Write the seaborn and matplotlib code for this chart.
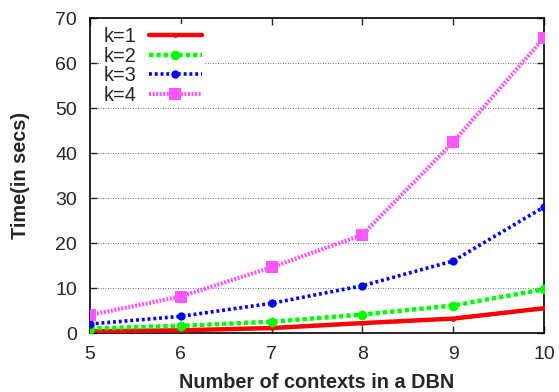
import matplotlib
matplotlib.use("Agg")
import matplotlib.pyplot as plt
import seaborn as sns
import pandas as pd

contexts = [5, 6, 7, 8, 9, 10]
k1 = [0.4, 0.6, 1.1, 2.2, 3.2, 5.5]
k2 = [1.0, 1.6, 2.5, 4.1, 6.1, 9.7]
k3 = [2.0, 3.7, 6.6, 10.5, 16.0, 28.0]
k4 = [4.0, 8.1, 14.6, 21.8, 42.4, 65.6]
labels = ["k=1", "k=2", "k=3", "k=4"]
yticks = [0, 10, 20, 30, 40, 50, 60, 70]

sns.set_style("ticks")
plt.rcParams['font.family'] = ['Liberation Sans', 'DejaVu Sans']

fig = plt.figure(figsize=(5.59, 3.92), dpi=100)
ax = fig.add_axes([0.161, 0.1505, 0.812, 0.8035])

styles = [
    dict(color="#ff0000", lw=3.2, ls="-", marker="o", ms=3.5),
    dict(color="#00ff00", lw=3.2, ls=(0, (1.0, 0.65)), marker="o", ms=7),
    dict(color="#0000ff", lw=2.6, ls=(0, (0.8, 0.8)), marker="o", ms=6),
    dict(color="#ff55ff", lw=3.0, ls=(0, (0.5, 0.35)), marker="s", ms=8),
]
for vals, lab, st in zip([k1, k2, k3, k4], labels, styles):
    df = pd.DataFrame({"x": contexts, "y": vals})
    sns.lineplot(data=df, x="x", y="y", ax=ax, label=lab, color=st["color"],
                 lw=st["lw"], linestyle=st["ls"], marker=st["marker"],
                 markersize=st["ms"], markeredgewidth=0, zorder=3)

ax.set_xlim(5, 10)
ax.set_ylim(0, 70)
ax.set_xticks(contexts)
ax.set_yticks(yticks)
ax.tick_params(direction="in", top=True, right=True, length=5, labelsize=14,
               width=1, pad=9.4)
ax.yaxis.grid(True, linestyle=(0, (1, 2)), color="#444444", lw=0.6)
ax.xaxis.grid(False)
for s in ax.spines.values():
    s.set_linewidth(1.2)
    s.set_color("black")
ax.set_xlabel("Number of contexts in a DBN", fontsize=14.3, fontweight="bold", labelpad=7)
ax.set_ylabel("Time(in secs)", fontsize=14.3, fontweight="bold", labelpad=18)

leg = ax.legend(loc="upper left", markerfirst=False, frameon=True, fancybox=False,
                edgecolor="none", facecolor="white", framealpha=1, fontsize=14.4,
                handlelength=2.65, labelspacing=0.03, borderpad=0.15,
                borderaxespad=0.3, handletextpad=0.6,
                bbox_to_anchor=(0.011, 1.0))
leg.set_zorder(5)
fig.savefig("out.png", dpi=100)
